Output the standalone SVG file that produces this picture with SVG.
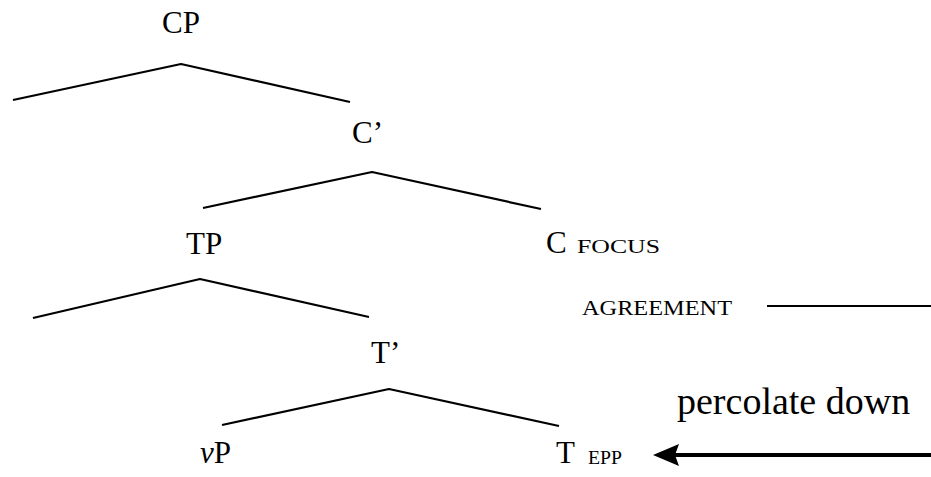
<svg xmlns="http://www.w3.org/2000/svg" width="931" height="477" viewBox="0 0 931 477">
<style>
text { font-family: "Liberation Serif", "Times New Roman", serif; fill: #000; }
.node { font-size: 31px; }
.sub { font-size: 19px; }
.br { fill: none; stroke: #000; stroke-width: 2.2; stroke-linejoin: round; }
</style>
<rect width="931" height="477" fill="#fff"/>
<g id="connectors">
  <polyline class="br" points="13,100 181,64 350,102"/>
  <polyline class="br" points="203,208 372,172 541,209"/>
  <polyline class="br" points="33,318 200,279 369,317"/>
  <polyline class="br" points="222,425 389,389 559,426"/>
  <line x1="767" y1="306" x2="931" y2="306" stroke="#000" stroke-width="2.2"/>
  <line x1="674" y1="455" x2="931" y2="455" stroke="#000" stroke-width="4"/>
  <polygon points="653,455 679,444 675,455 679,466" fill="#000"/>
</g>
<g id="CP"><text class="node" x="162" y="33">CP</text></g>
<g id="Cbar"><text class="node" x="352" y="143">C’</text></g>
<g id="TP"><text class="node" x="186" y="254">TP</text></g>
<g id="Cfocus"><text class="node" x="546" y="253">C</text><text class="sub" x="577" y="253" textLength="83" lengthAdjust="spacingAndGlyphs">FOCUS</text></g>
<g id="agreement"><text x="582" y="315" style="font-size:22px" textLength="150" lengthAdjust="spacingAndGlyphs">AGREEMENT</text></g>
<g id="Tbar"><text class="node" x="371" y="363">T’</text></g>
<g id="vP"><text class="node" x="200" y="463"><tspan font-style="italic">v</tspan>P</text></g>
<g id="Tepp"><text class="node" x="556" y="463">T</text><text class="sub" x="588" y="464" textLength="34" lengthAdjust="spacingAndGlyphs">EPP</text></g>
<g id="percolate"><text x="677" y="414" style="font-size:38px">percolate down</text></g>
</svg>
